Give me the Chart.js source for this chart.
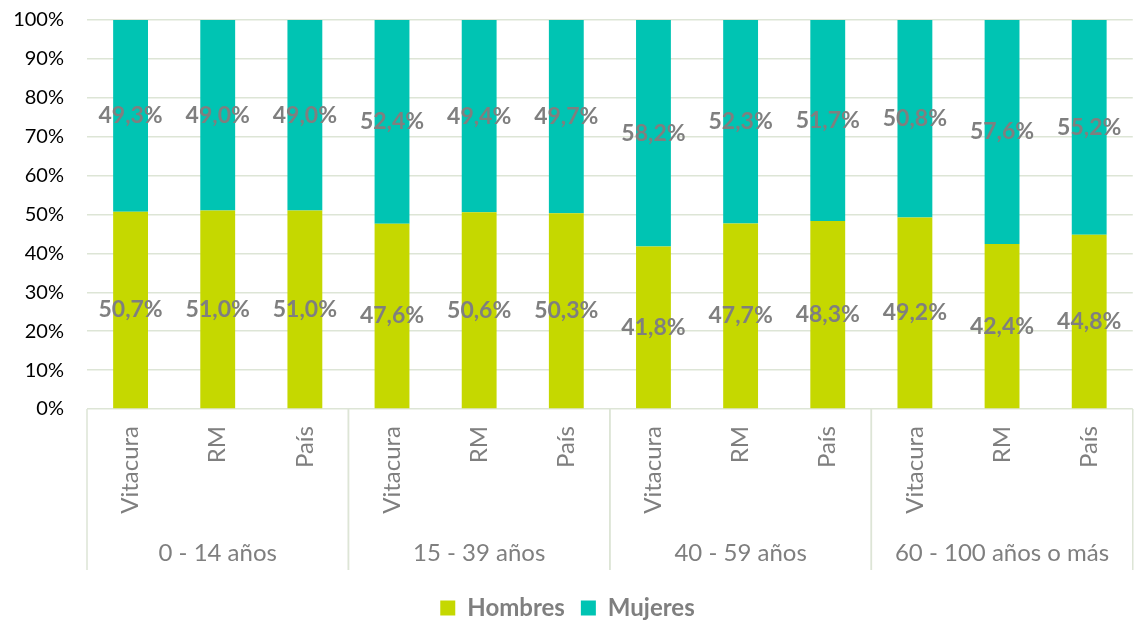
<!DOCTYPE html>
<html><head><meta charset="utf-8">
<script src="https://cdn.jsdelivr.net/npm/chart.js@4"></script>
<style>html,body{margin:0;padding:0;background:#fff}#wrap{width:1135px;height:620px;position:relative}</style>
</head><body><div id="wrap"><canvas id="c"></canvas></div>
<script>
const groups = ['0 - 14 años', '15 - 39 años', '40 - 59 años', '60 - 100 años o más'];
const places = ['Vitacura', 'RM', 'País'];
const hombres = [50.7, 51.0, 51.0, 47.6, 50.6, 50.3, 41.8, 47.7, 48.3, 49.2, 42.4, 44.8];
const mujeres = [49.3, 49.0, 49.0, 52.4, 49.4, 49.7, 58.2, 52.3, 51.7, 50.8, 57.6, 55.2];
const yTicks = [0, 10, 20, 30, 40, 50, 60, 70, 80, 90, 100];

const labels = [];
groups.forEach(() => places.forEach(p => labels.push(p)));

Chart.defaults.font.family = 'Lato';
const GRAY = '#7f7f7f';
const GRID = '#dde5d6';

const valueLabels = {
  id: 'valueLabels',
  afterDatasetsDraw(chart) {
    const ctx = chart.ctx;
    ctx.save();
    ctx.font = 'bold 23px Lato';
    ctx.fillStyle = GRAY;
    ctx.textAlign = 'center';
    ctx.textBaseline = 'middle';
    chart.data.datasets.forEach((ds, di) => {
      chart.getDatasetMeta(di).data.forEach((el, i) => {
        const v = ds.data[i];
        const y = (el.y + el.base) / 2;
        ctx.fillText(v.toFixed(1).replace('.', ',') + '%', el.x, y);
      });
    });
    ctx.restore();
  }
};

const groupAxis = {
  id: 'groupAxis',
  afterDraw(chart) {
    const ctx = chart.ctx;
    const xs = chart.scales.x;
    const half = (xs.getPixelForValue(1) - xs.getPixelForValue(0)) / 2;
    const top = chart.chartArea.bottom;
    ctx.save();
    ctx.strokeStyle = GRID;
    ctx.lineWidth = 1.5;
    ctx.fillStyle = GRAY;
    ctx.font = '24px Lato';
    ctx.textAlign = 'center';
    ctx.textBaseline = 'alphabetic';
    groups.forEach((g, gi) => {
      const first = xs.getPixelForValue(gi * places.length);
      const last = xs.getPixelForValue(gi * places.length + places.length - 1);
      const left = first - half;
      const right = last + half;
      [left, right].forEach(x => {
        ctx.beginPath();
        ctx.moveTo(x, top);
        ctx.lineTo(x, top + 161);
        ctx.stroke();
      });
      ctx.fillText(g, (first + last) / 2, top + 152);
    });
    ctx.restore();
  }
};

new Chart(document.getElementById('c'), {
  type: 'bar',
  data: {
    labels: labels,
    datasets: [
      { label: 'Hombres', data: hombres, backgroundColor: '#c5d800', barPercentage: 0.4, categoryPercentage: 1 },
      { label: 'Mujeres', data: mujeres, backgroundColor: '#00c4b3', barPercentage: 0.4, categoryPercentage: 1 }
    ]
  },
  options: {
    responsive: true,
    maintainAspectRatio: false,
    animation: false,
    layout: { padding: { top: 20, left: 0, right: 0, bottom: -10 } },
    plugins: {
      legend: {
        position: 'bottom',
        labels: {
          boxWidth: 15, boxHeight: 15, padding: 16,
          color: GRAY,
          font: { size: 24, weight: 'bold', family: 'Lato' }
        }
      },
      tooltip: { enabled: false }
    },
    scales: {
      x: {
        stacked: true,
        grid: { display: false, drawTicks: false },
        border: { display: false },
        ticks: {
          minRotation: 90, maxRotation: 90, padding: 17,
          color: GRAY,
          font: { size: 24, family: 'Lato' }
        },
        afterFit(s) { s.height = 171; s.paddingTop = 0; s.paddingBottom = 0; }
      },
      y: {
        stacked: true,
        min: 0, max: 100,
        afterBuildTicks(s) { s.ticks = yTicks.map(v => ({ value: v })); },
        grid: { color: GRID, lineWidth: 1.5, drawTicks: false },
        border: { display: false },
        ticks: {
          padding: 23,
          color: '#000',
          font: { size: 20, family: 'Lato' },
          callback: v => v + '%'
        },
        afterFit(s) { s.width = 87; s.paddingTop = 0; s.paddingBottom = 0; }
      }
    }
  },
  plugins: [valueLabels, groupAxis]
});
</script>
</body></html>
